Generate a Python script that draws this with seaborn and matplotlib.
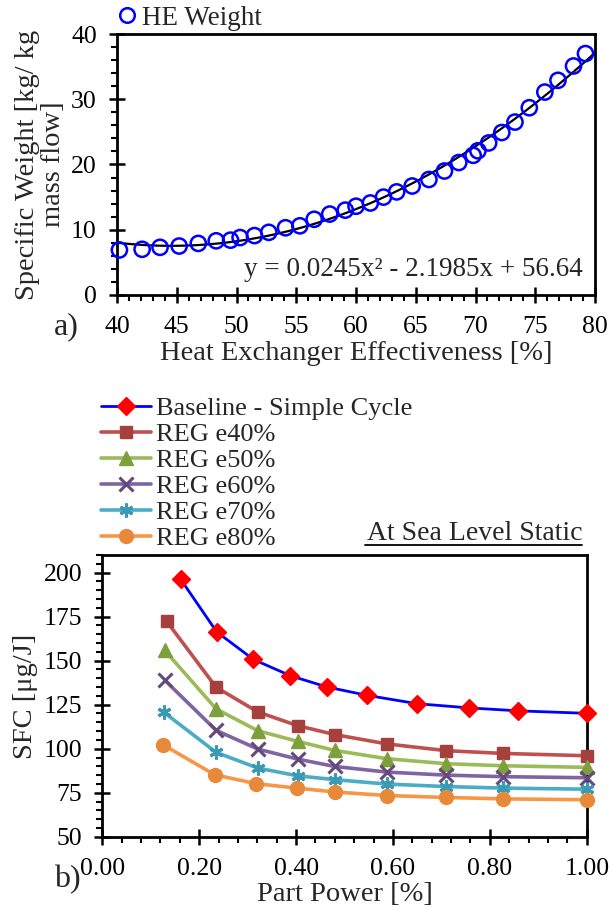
import numpy as np
import pandas as pd
import matplotlib
matplotlib.use("Agg")
import matplotlib.pyplot as plt
from matplotlib.ticker import MultipleLocator, FormatStrFormatter
from matplotlib.lines import Line2D
import seaborn as sns

# ---------------- data: panel a ----------------
he_effectiveness = [40.2, 42.1, 43.6, 45.2, 46.8, 48.3, 49.5, 50.3, 51.5, 52.7,
                    54.1, 55.3, 56.5, 57.8, 59.1, 60.0, 61.2, 62.3, 63.4, 64.7,
                    66.1, 67.4, 68.6, 69.8, 70.2, 71.1, 72.2, 73.3, 74.5, 75.8,
                    76.9, 78.2, 79.2]
he_weight = [6.9, 7.0, 7.3, 7.5, 7.9, 8.3, 8.4, 8.8, 9.1, 9.6,
             10.3, 10.6, 11.6, 12.4, 13.0, 13.6, 14.1, 15.0, 15.8, 16.7,
             17.7, 19.0, 20.3, 21.4, 22.1, 23.3, 24.9, 26.5, 28.7, 31.1,
             32.9, 35.1, 37.0]
fit_label = "y = 0.0245x\u00b2 - 2.1985x + 56.64"

# ---------------- data: panel b ----------------
series_names = ["Baseline - Simple Cycle", "REG e40%", "REG e50%",
                "REG e60%", "REG e70%", "REG e80%"]
pp_base = [0.162, 0.236, 0.312, 0.388, 0.463, 0.547, 0.649, 0.756, 0.859, 1.0]
sfc_base = [196.2, 166.4, 150.7, 141.5, 135.1, 130.3, 125.6, 123.2, 121.5, 120.1]
pp_e40 = [0.133, 0.235, 0.321, 0.403, 0.480, 0.588, 0.709, 0.828, 1.0]
sfc_e40 = [172.3, 134.9, 120.9, 113.1, 108.0, 102.7, 98.9, 97.3, 96.0]
pp_e50 = [0.129, 0.235, 0.321, 0.403, 0.480, 0.588, 0.709, 0.828, 1.0]
sfc_e50 = [155.8, 122.6, 110.2, 104.2, 99.0, 94.3, 91.5, 90.3, 89.4]
pp_e60 = [0.129, 0.235, 0.321, 0.403, 0.480, 0.588, 0.709, 0.828, 1.0]
sfc_e60 = [138.9, 110.4, 99.8, 94.1, 89.9, 86.7, 85.0, 84.1, 83.5]
pp_e70 = [0.127, 0.235, 0.321, 0.403, 0.480, 0.588, 0.709, 0.828, 1.0]
sfc_e70 = [120.7, 97.9, 89.0, 84.6, 82.4, 79.9, 78.5, 77.6, 77.0]
pp_e80 = [0.125, 0.232, 0.318, 0.402, 0.480, 0.587, 0.709, 0.828, 1.0]
sfc_e80 = [102.3, 85.2, 80.1, 77.6, 75.4, 73.4, 72.3, 71.5, 71.0]

# ---------------- style ----------------
sns.set_theme(style="ticks")
plt.rcParams["font.family"] = ["Liberation Serif", "DejaVu Serif"]
plt.rcParams["font.size"] = 19

TICK_FS = 18.5
LABEL_FS = 20.5

fig = plt.figure(figsize=(6.14, 9.07), dpi=100)

def style_axes(ax):
    for s in ax.spines.values():
        s.set_color("black")
        s.set_linewidth(2.0)
    ax.tick_params(which="major", direction="inout", length=11, width=1.8,
                   colors="black", labelsize=TICK_FS)
    ax.tick_params(axis="x", which="major", pad=10)
    ax.tick_params(axis="y", which="major", pad=9)
    ax.tick_params(which="minor", direction="out", length=4.5, width=1.5,
                   colors="black")
    ax.grid(False)

# ---------------- panel a ----------------
ax1 = fig.add_axes([0.1906, 0.6748, 0.7785, 0.2877])
ax1.set_xlim(40, 80)
ax1.set_ylim(0, 40)
df_a = pd.DataFrame({"eff": he_effectiveness, "w": he_weight})
sns.regplot(data=df_a, x="eff", y="w", order=2, ci=None, truncate=False,
            scatter=False, ax=ax1, line_kws=dict(color="black", lw=1.6))
sns.scatterplot(data=df_a, x="eff", y="w", ax=ax1, marker="o", s=120,
                facecolor="none", edgecolor="#0000FF", linewidth=1.8,
                zorder=3, legend=False, clip_on=False)
ax1.set_xlim(40, 80)
ax1.set_ylim(0, 40)
ax1.xaxis.set_major_locator(MultipleLocator(5))
ax1.xaxis.set_minor_locator(MultipleLocator(1))
ax1.yaxis.set_major_locator(MultipleLocator(10))
ax1.yaxis.set_minor_locator(MultipleLocator(2))
style_axes(ax1)
ax1.set_xlabel("Heat Exchanger Effectiveness [%]", fontsize=LABEL_FS, labelpad=2)
ax1.set_ylabel("Specific Weight [kg/ kg\nmass flow]", fontsize=LABEL_FS,
               labelpad=4, linespacing=1.05)
ax1.text(0.975, 0.096, fit_label, transform=ax1.transAxes, ha="right",
         va="center", fontsize=19.5)
h_he = Line2D([], [], marker="o", linestyle="none", markersize=10.5,
              markerfacecolor="none", markeredgecolor="#0000FF",
              markeredgewidth=1.8)
ax1.legend([h_he], ["HE Weight"], loc="lower left",
           bbox_to_anchor=(-0.035, 0.96), frameon=False, fontsize=19.5,
           handletextpad=0.05, borderpad=0.0, handlelength=1.0)
fig.text(0.088, 0.64, "a)", fontsize=23, ha="left", va="center")

# ---------------- panel b ----------------
ax2 = fig.add_axes([0.1666, 0.0775, 0.789, 0.3105])
pps = [pp_base, pp_e40, pp_e50, pp_e60, pp_e70, pp_e80]
sfcs = [sfc_base, sfc_e40, sfc_e50, sfc_e60, sfc_e70, sfc_e80]
line_colors = ["#0000FF", "#C0504D", "#9BBB59", "#8064A2", "#4BACC6", "#F79646"]
marker_colors = ["#FF0000", "#A5403D", "#7EA03C", "#64497F", "#3A9AB5", "#E8893A"]
markers = ["D", "s", "^", "x", (6, 2, 0), "o"]
msizes = [9, 8, 10, 10, 10, 10]
handles = []
for name, x, y, lc, mc, mk, ms in zip(series_names, pps, sfcs, line_colors,
                                      marker_colors, markers, msizes):
    d = pd.DataFrame({"pp": x, "sfc": y})
    lw = 2.0 if name.startswith("Baseline") else 2.6
    mew = 2.2 if mk in ("x", (6, 2, 0)) else 1.0
    sns.lineplot(data=d, x="pp", y="sfc", ax=ax2, color=lc, lw=lw,
                 marker=mk, markersize=ms, markerfacecolor=mc,
                 markeredgecolor=mc, markeredgewidth=mew,
                 legend=False, zorder=3, clip_on=False)
    handles.append(Line2D([], [], color=lc, lw=lw, marker=mk, markersize=ms,
                          markerfacecolor=mc, markeredgecolor=mc,
                          markeredgewidth=mew))
ax2.set_xlim(0, 1)
ax2.set_ylim(50, 210)
ax2.xaxis.set_major_locator(MultipleLocator(0.2))
ax2.xaxis.set_minor_locator(MultipleLocator(0.04))
ax2.xaxis.set_major_formatter(FormatStrFormatter("%.2f"))
ax2.set_yticks([50, 75, 100, 125, 150, 175, 200])
ax2.yaxis.set_minor_locator(MultipleLocator(5))
style_axes(ax2)
ax2.set_xlabel("Part Power [%]", fontsize=LABEL_FS, labelpad=1)
ax2.set_ylabel("SFC [\u03bcg/J]", fontsize=LABEL_FS, labelpad=4)
ax2.legend(handles, series_names, loc="lower left",
           bbox_to_anchor=(-0.03, 0.97), frameon=False, fontsize=19,
           handlelength=1.9, handletextpad=0.2, labelspacing=0.1,
           borderpad=0.0)
fig.text(0.948, 0.4123, "At Sea Level Static", fontsize=20, ha="right",
         va="center")
fig.add_artist(Line2D([0.594, 0.948], [0.399, 0.399], color="black",
                      lw=1.3, transform=fig.transFigure))
fig.text(0.088, 0.03, "b)", fontsize=23, ha="left", va="center")

fig.savefig("out.png", dpi=100)
